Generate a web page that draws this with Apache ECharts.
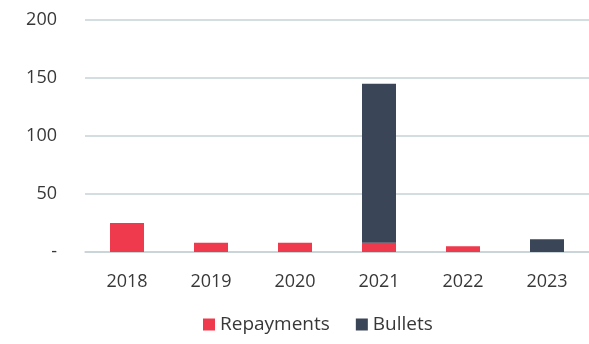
<!DOCTYPE html>
<html>
<head>
<meta charset="utf-8">
<script src="https://cdn.jsdelivr.net/npm/echarts@6/dist/echarts.min.js"></script>
<style>
  html, body { margin: 0; padding: 0; background: #fff; }
  #main { width: 589px; height: 344px; }
</style>
</head>
<body>
<div id="main"></div>
<script>
var years = ["2018", "2019", "2020", "2021", "2022", "2023"];
var repayments = [25, 8, 8, 8, 5, 0];
var bullets = [0, 0, 0, 137, 0, 11];
var yTicks = { 0: "-", 50: "50", 100: "100", 150: "150", 200: "200" };

var redColor = "#ee3a4c";
var navyColor = "#3a4557";
var textColor = "#383838";
var font = "Open Sans";

var chart = echarts.init(document.getElementById("main"));
chart.setOption({
  animation: false,
  textStyle: { fontFamily: font },
  grid: { left: 85, top: 20, width: 522, height: 232 },
  legend: {
    bottom: 5,
    left: 198,
    itemWidth: 12,
    itemHeight: 12,
    itemGap: 26,
    itemStyle: { borderWidth: 0 },
    icon: "rect",
    textStyle: { fontSize: 19, color: textColor, fontFamily: font },
    data: ["Repayments", "Bullets"],
  },
  xAxis: {
    type: "category",
    data: years,
    axisTick: { show: false },
    axisLine: { lineStyle: { color: "#c6d2d6", width: 1.5 } },
    axisLabel: { fontSize: 18, color: textColor, margin: 21 },
  },
  yAxis: {
    type: "value",
    min: 0,
    max: 200,
    interval: 50,
    axisLine: { show: false },
    axisTick: { show: false },
    splitLine: { lineStyle: { color: "#c6d2d6", width: 1.5 } },
    axisLabel: {
      fontSize: 18,
      color: textColor,
      margin: 28,
      formatter: function (v) { return yTicks[v]; },
    },
  },
  series: [
    {
      name: "Repayments",
      type: "bar",
      stack: "total",
      barWidth: 34,
      data: repayments,
      itemStyle: { color: redColor },
    },
    {
      name: "Bullets",
      type: "bar",
      stack: "total",
      barWidth: 34,
      data: bullets,
      itemStyle: { color: navyColor },
    },
  ],
});
</script>
</body>
</html>
